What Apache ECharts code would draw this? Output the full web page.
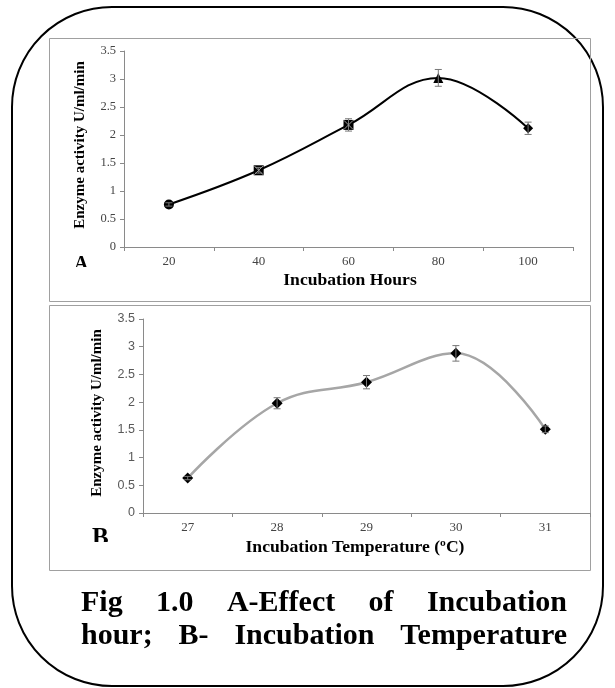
<!DOCTYPE html>
<html>
<head>
<meta charset="utf-8">
<script src="https://cdn.jsdelivr.net/npm/echarts@6/dist/echarts.min.js"></script>
<style>
html,body{margin:0;padding:0;background:#fff;}
#chart{width:615px;height:688px;}
</style>
</head>
<body>
<div id="chart"></div>
<script>
// ---- Data ----
const hoursA = ['20', '40', '60', '80', '100'];
const activityA = [0.76, 1.37, 2.18, 3.02, 2.12];
const errorA = [0.03, 0.05, 0.11, 0.15, 0.11];

const tempsB = ['27', '28', '29', '30', '31'];
const activityB = [0.63, 1.98, 2.36, 2.88, 1.51];
const errorB = [0.03, 0.10, 0.12, 0.14, 0.06];

const yMin = 0, yMax = 3.5, yStep = 0.5;

// ---- Styles ----
const markerA = ['circle', 'rect', 'rect', 'triangle', 'diamond'];
const crossA = [false, true, true, false, false];
const serif = '"Liberation Serif", "Times New Roman", serif';
const sans = '"Liberation Sans", Arial, sans-serif';

const chart = echarts.init(document.getElementById('chart'));

function errorBarSeries(xIdx, yIdx, vals, errs) {
  return {
    type: 'custom',
    xAxisIndex: xIdx, yAxisIndex: yIdx,
    z: 5,
    data: vals.map((v, i) => [i, v, errs[i]]),
    renderItem: function (params, api) {
      const i = api.value(0), v = api.value(1), e = api.value(2);
      const t = api.coord([i, v + e]);
      const b = api.coord([i, v - e]);
      const w = 3.5;
      const st = { stroke: '#777', lineWidth: 1 };
      return {
        type: 'group',
        children: [
          { type: 'line', shape: { x1: t[0], y1: t[1], x2: b[0], y2: b[1] }, style: st },
          { type: 'line', shape: { x1: t[0] - w, y1: t[1], x2: t[0] + w, y2: t[1] }, style: st },
          { type: 'line', shape: { x1: b[0] - w, y1: b[1], x2: b[0] + w, y2: b[1] }, style: st }
        ]
      };
    }
  };
}

function crossSeries(xIdx, yIdx, vals, flags) {
  return {
    type: 'custom',
    xAxisIndex: xIdx, yAxisIndex: yIdx,
    z: 6,
    data: vals.map((v, i) => [i, v, flags[i] ? 1 : 0]),
    renderItem: function (params, api) {
      if (!api.value(2)) return null;
      const c = api.coord([api.value(0), api.value(1)]);
      const s = 4.5;
      const st = { stroke: '#9a9a9a', lineWidth: 1 };
      return {
        type: 'group',
        children: [
          { type: 'line', shape: { x1: c[0] - s, y1: c[1] - s, x2: c[0] + s, y2: c[1] + s }, style: st },
          { type: 'line', shape: { x1: c[0] + s, y1: c[1] - s, x2: c[0] - s, y2: c[1] + s }, style: st }
        ]
      };
    }
  };
}

const axisLineStyle = { lineStyle: { color: '#8a8a8a', width: 1 } };

function xAxis(gridIndex, cats, labelFont) {
  return {
    type: 'category', gridIndex: gridIndex, data: cats, boundaryGap: true,
    axisLine: axisLineStyle,
    axisTick: { show: true, length: 4, lineStyle: { color: '#8a8a8a' } },
    axisLabel: { fontFamily: labelFont, fontSize: 13, color: '#444', margin: 8 }
  };
}
function yAxis(gridIndex, labelFont, color) {
  return {
    type: 'value', gridIndex: gridIndex, min: yMin, max: yMax, interval: yStep,
    axisLine: Object.assign({ show: true }, axisLineStyle),
    axisTick: { show: true, length: 4, lineStyle: { color: '#8a8a8a' } },
    splitLine: { show: false },
    axisLabel: { fontFamily: labelFont, fontSize: 12.5, color: color, margin: 8 }
  };
}

// caption words, justified
const captionLines = [
  ['Fig', '1.0', 'A-Effect', 'of', 'Incubation'],
  ['hour;', 'B-', 'Incubation', 'Temperature']
];
const capFont = 'bold 30px ' + serif;
const meas = document.createElement('canvas').getContext('2d');
meas.font = capFont;
const capLeft = 81, capRight = 567;
const capY = [603, 636];
const captionGraphics = [];
captionLines.forEach((words, li) => {
  const widths = words.map(w => meas.measureText(w).width);
  const total = widths.reduce((a, b) => a + b, 0);
  const gap = (capRight - capLeft - total) / (words.length - 1);
  let x = capLeft;
  words.forEach((w, wi) => {
    captionGraphics.push({
      type: 'text', x: x, y: capY[li], z: 10,
      style: { text: w, font: capFont, fill: '#000', verticalAlign: 'middle' }
    });
    x += widths[wi] + gap;
  });
});

const option = {
  backgroundColor: '#fff',
  animation: false,
  grid: [
    { left: 124, top: 51, width: 449, height: 196 },
    { left: 143, top: 319, width: 447, height: 194 }
  ],
  xAxis: [xAxis(0, hoursA, serif), xAxis(1, tempsB, serif)],
  yAxis: [yAxis(0, serif, '#444'), yAxis(1, sans, '#595959')],
  series: [
    {
      type: 'line', xAxisIndex: 0, yAxisIndex: 0, smooth: 0.4,
      data: activityA.map((v, i) => ({ value: v, symbol: markerA[i] })),
      symbolSize: 10,
      lineStyle: { color: '#000', width: 2 },
      itemStyle: { color: '#000' },
      z: 3
    },
    errorBarSeries(0, 0, activityA, errorA),
    crossSeries(0, 0, activityA, crossA),
    {
      type: 'line', xAxisIndex: 1, yAxisIndex: 1, smooth: 0.4,
      data: activityB,
      symbol: 'diamond', symbolSize: 11,
      lineStyle: { color: '#a6a6a6', width: 2.5 },
      itemStyle: { color: '#000' },
      z: 3
    },
    errorBarSeries(1, 1, activityB, errorB)
  ],
  graphic: [
    // outer rounded frame
    { type: 'rect', z: 0, shape: { x: 12, y: 7, width: 591, height: 679, r: 100 },
      style: { fill: null, stroke: '#000', lineWidth: 2 } },
    // chart boxes
    { type: 'rect', z: 0, shape: { x: 49.5, y: 38.5, width: 541, height: 263 },
      style: { fill: null, stroke: '#a0a0a0', lineWidth: 1 } },
    { type: 'rect', z: 0, shape: { x: 49.5, y: 305.5, width: 541, height: 265 },
      style: { fill: null, stroke: '#a0a0a0', lineWidth: 1 } },
    // y axis titles
    { type: 'text', x: 80, y: 145, rotation: Math.PI / 2, z: 10,
      style: { text: 'Enzyme activity U/ml/min', font: 'bold 15px ' + serif, fill: '#000',
               align: 'center', verticalAlign: 'middle' } },
    { type: 'text', x: 97, y: 413, rotation: Math.PI / 2, z: 10,
      style: { text: 'Enzyme activity U/ml/min', font: 'bold 15px ' + serif, fill: '#000',
               align: 'center', verticalAlign: 'middle' } },
    // x axis titles
    { type: 'text', x: 350, y: 281, scaleX: 1.1, z: 10,
      style: { text: 'Incubation Hours', font: 'bold 16px ' + serif, fill: '#000',
               align: 'center', verticalAlign: 'middle' } },
    { type: 'text', x: 355, y: 548, scaleX: 1.1, z: 10,
      style: { text: 'Incubation Temperature (ºC)', font: 'bold 16px ' + serif, fill: '#000',
               align: 'center', verticalAlign: 'middle' } },
    // panel letters (bottom clipped as in reference)
    { type: 'text', x: 74, y: 255, z: 10,
      style: { text: 'A', font: 'bold 20px ' + serif, fill: '#000', verticalAlign: 'top' } },
    { type: 'rect', z: 20, shape: { x: 68, y: 267, width: 30, height: 26 }, style: { fill: '#fff', stroke: null } },
    { type: 'text', x: 92, y: 526, z: 10,
      style: { text: 'B', font: 'bold 25px ' + serif, fill: '#000', verticalAlign: 'top' } },
    { type: 'rect', z: 20, shape: { x: 88, y: 542, width: 30, height: 24 }, style: { fill: '#fff', stroke: null } }
  ].concat(captionGraphics)
};

chart.setOption(option);
</script>
</body>
</html>
